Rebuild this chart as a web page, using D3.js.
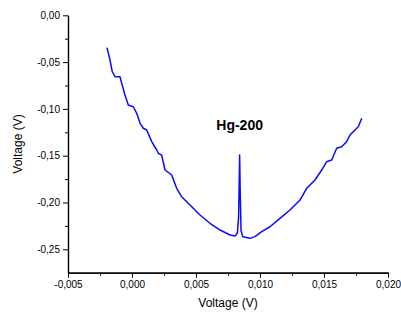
<!DOCTYPE html>
<html>
<head>
<meta charset="utf-8">
<script src="https://cdn.jsdelivr.net/npm/d3@7"></script>
<style>
    body { margin: 0; background: #fff; }
    svg text { font-family: Arial, "Liberation Sans", sans-serif; fill: #000; }
</style>
</head>
<body>
<div id="chart"></div>
<script>
(function () {
    'use strict';

    // x in V and y in V
    let sweepX = [
        -0.00195, -0.00172, -0.00154, -0.00133, -0.00094, -0.00080, -0.00055, -0.00029,
        0.00010, 0.00037, 0.00063, 0.00088, 0.00115, 0.00154, 0.00193, 0.00205,
        0.00232, 0.00258, 0.00310, 0.00349, 0.00388, 0.00453, 0.00531, 0.00609,
        0.00688, 0.00766, 0.00805, 0.00823, 0.00833, 0.00838, 0.00841, 0.00845,
        0.00852, 0.00865, 0.00922, 0.00961, 0.01013, 0.01078, 0.01156, 0.01234,
        0.01313, 0.01365, 0.01430, 0.01482, 0.01521, 0.01560, 0.01599, 0.01638,
        0.01677, 0.01703, 0.01742, 0.01768, 0.01795
    ];
    let sweepY = [
        -0.0346, -0.0478, -0.0603, -0.0656, -0.0656, -0.0727, -0.0852, -0.0958,
        -0.0977, -0.1047, -0.1154, -0.1207, -0.1225, -0.1350, -0.1439, -0.1474,
        -0.1493, -0.1653, -0.1706, -0.1848, -0.1938, -0.2027, -0.2134, -0.2222,
        -0.2294, -0.2347, -0.2358, -0.2329, -0.2150, -0.1750, -0.1493, -0.1850,
        -0.2300, -0.2365, -0.2383, -0.2365, -0.2312, -0.2259, -0.2169, -0.2080,
        -0.1973, -0.1848, -0.1760, -0.1653, -0.1564, -0.1546, -0.1421, -0.1404,
        -0.1350, -0.1279, -0.1225, -0.1190, -0.1100
    ];

    let xTicks = [-0.005, 0.000, 0.005, 0.010, 0.015, 0.020];
    let xMinor = [-0.0025, 0.0025, 0.0075, 0.0125, 0.0175];
    let yTicks = [0.00, -0.05, -0.10, -0.15, -0.20, -0.25];
    let yMinor = [-0.025, -0.075, -0.125, -0.175, -0.225];

    let peakLabel = 'Hg-200';
    let peakLabelX = 0.00841;
    let peakLabelY = -0.1225;

    let width = 401;
    let height = 315;
    let left = 68, right = 388, top = 15.3, bottom = 272.7;

    let locale = d3.formatLocale({
        decimal: ',', thousands: '.', grouping: [3], currency: ['', ''], minus: '-'
    });

    let svg = d3.select('#chart').append('svg')
        .attr('width', width)
        .attr('height', height);

    let xScale = d3.scaleLinear()
        .domain([-0.005, 0.020])
        .range([left, right]);
    let yScale = d3.scaleLinear()
        .domain([-0.275, 0])
        .range([bottom, top]);

    let xAxis = d3.axisBottom(xScale)
        .tickValues(xTicks)
        .tickSizeInner(5)
        .tickSizeOuter(0)
        .tickPadding(3)
        .tickFormat(locale.format('.3f'));
    let xAxisMinor = d3.axisBottom(xScale)
        .tickValues(xMinor)
        .tickSizeInner(3)
        .tickSizeOuter(0)
        .tickFormat('');
    let yAxis = d3.axisLeft(yScale)
        .tickValues(yTicks)
        .tickSizeInner(5)
        .tickSizeOuter(0)
        .tickPadding(3)
        .tickFormat(locale.format('.2f'));
    let yAxisMinor = d3.axisLeft(yScale)
        .tickValues(yMinor)
        .tickSizeInner(3)
        .tickSizeOuter(0)
        .tickFormat('');

    svg.append('g')
        .attr('class', 'x-axis')
        .attr('transform', 'translate(0,' + bottom + ')')
        .call(xAxis);
    svg.append('g')
        .attr('transform', 'translate(0,' + bottom + ')')
        .call(xAxisMinor);
    svg.append('g')
        .attr('class', 'y-axis')
        .attr('transform', 'translate(' + left + ',0)')
        .call(yAxis);
    svg.append('g')
        .attr('transform', 'translate(' + left + ',0)')
        .call(yAxisMinor);

    svg.selectAll('.domain').attr('stroke', '#000').attr('stroke-width', 1.2);
    svg.selectAll('.tick line').attr('stroke', '#000').attr('stroke-width', 1);
    svg.selectAll('.tick text')
        .style('font-size', '10px')
        .attr('fill', '#000');

    let points = sweepX.map(function (x, i) { return [x, sweepY[i]]; });

    let line = d3.line()
        .x(function (d) { return xScale(d[0]); })
        .y(function (d) { return yScale(d[1]); });

    svg.append('path')
        .datum(points)
        .attr('d', line)
        .attr('fill', 'none')
        .attr('stroke', '#0a0aff')
        .attr('stroke-width', 1.5)
        .attr('stroke-linejoin', 'round');

    svg.append('text')
        .attr('x', xScale(peakLabelX))
        .attr('y', yScale(peakLabelY))
        .attr('text-anchor', 'middle')
        .style('font-size', '14px')
        .style('font-weight', 'bold')
        .text(peakLabel);

    svg.append('text')
        .attr('x', (left + right) / 2)
        .attr('y', 307)
        .attr('text-anchor', 'middle')
        .style('font-size', '12px')
        .text('Voltage (V)');

    svg.append('text')
        .attr('transform', 'translate(22,' + ((top + bottom) / 2) + ') rotate(-90)')
        .attr('text-anchor', 'middle')
        .style('font-size', '12px')
        .text('Voltage (V)');
})();
</script>
</body>
</html>
